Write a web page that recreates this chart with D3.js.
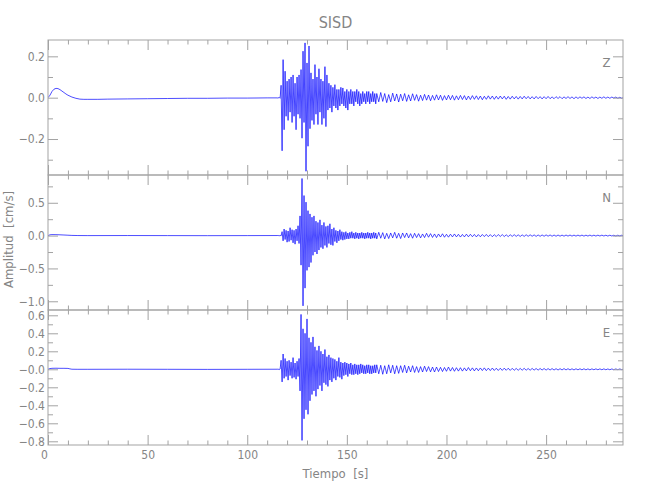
<!DOCTYPE html>
<html><head><meta charset="utf-8">
<script src="https://cdn.jsdelivr.net/npm/d3@7"></script>
<style>body{margin:0;background:#fff}svg{display:block}</style>
</head><body><svg id="c" width="650" height="500"></svg>
<script>
// ---------------- data ----------------
const title = "SISD";
const xLabel = "Tiempo  [s]";
const yLabel = "Amplitud  [cm/s]";
const xDomain = [0, 288.6];
const xTicksMajor = [0, 50, 100, 150, 200, 250];
const xTicksMinor = [10,20,30,40,60,70,80,90,110,120,130,140,160,170,180,190,210,220,230,240,260,270,280];
const channels = ["Z", "N", "E"];

const zDomain = [-0.374, 0.279];
const zTicksMajor = [0.2, 0.0, -0.2];
const zTickLabels = ["0.2", "0.0", "\u22120.2"];
const zTicksMinor = [0.1, -0.1, -0.3];

const nDomain = [-1.133, 0.923];
const nTicksMajor = [0.5, 0.0, -0.5, -1.0];
const nTickLabels = ["0.5", "0.0", "\u22120.5", "\u22121.0"];
const nTicksMinor = [0.75, 0.25, -0.25, -0.75];

const eDomain = [-0.841, 0.659];
const eTicksMajor = [0.6, 0.4, 0.2, 0.0, -0.2, -0.4, -0.6, -0.8];
const eTickLabels = ["0.6", "0.4", "0.2", "\u22120.0", "\u22120.2", "\u22120.4", "\u22120.6", "\u22120.8"];
const eTicksMinor = [0.5, 0.3, 0.1, -0.1, -0.3, -0.5, -0.7];

// pre-event samples (time s, amplitude cm/s)
const zPreT = [0,1,2,3,4,5,6,7,8,9,10,12,14,16,18,20,25,30,40,50,60,70,80,90,100,110,115];
const zPreV = [0,0.012,0.030,0.041,0.045,0.044,0.039,0.032,0.025,0.018,0.012,0.003,-0.003,-0.007,-0.008,-0.008,-0.008,-0.007,-0.006,-0.005,-0.004,-0.003,-0.003,-0.002,-0.002,-0.001,-0.001];
const nPreT = [0,1,2,4,6,8,10,12,15,20,40,60,80,100,115];
const nPreV = [0,0.012,0.015,0.014,0.012,0.009,0.006,0.003,0.001,0,0.001,0,-0.001,0,0.001];
const ePreT = [0,1,2,4,6,8,10,11,12,15,20,40,60,80,100,115];
const ePreV = [0,0.008,0.011,0.012,0.011,0.011,0.010,0.005,0.001,0,0,0.001,0,-0.001,0,0.001];

// successive peaks of the strong-motion part, every 0.5 s from 115.5 s
const burstStart = 115.5, burstStep = 0.5;
const zBurst = [
 -0.002,0.002,-0.003,0.06,-0.257,0.184,-0.155,0.128,-0.09,0.08,
 -0.11,0.09,-0.07,0.10,-0.12,0.11,-0.09,0.07,-0.155,0.10,
 -0.08,0.11,-0.10,0.136,-0.196,0.225,-0.12,0.265,-0.356,0.168,
 -0.235,0.25,-0.15,0.12,-0.11,0.09,-0.13,0.16,-0.08,0.10,
 -0.13,0.14,-0.07,0.09,-0.13,0.08,-0.10,0.15,-0.14,0.11,
 -0.06,0.07,-0.05,0.06,-0.07,0.05,-0.04,0.063,-0.05,0.04,
 -0.06,0.04,-0.04,0.05,-0.03,0.047,-0.04,0.03,-0.05,0.04,
 -0.06,0.03,-0.03,0.04,-0.03,0.03,-0.04,0.03,-0.02,0.04,
 -0.03,0.03,-0.04,0.02,-0.03,0.03,-0.02,0.02,-0.03,0.03,
 -0.02,0.03,-0.03,0.02,-0.02,0.03,-0.02,0.02,-0.03,0.02];
const nBurst = [
 0.003,-0.004,0.004,-0.005,0.06,-0.08,0.10,-0.06,0.08,-0.10,
 0.07,-0.09,0.12,-0.07,0.09,-0.11,0.08,-0.13,0.10,-0.08,
 0.15,-0.12,0.30,-0.45,0.87,-1.07,0.61,-0.80,0.51,-0.53,
 0.38,-0.48,0.33,-0.41,0.28,-0.30,0.30,-0.25,0.22,-0.28,
 0.20,-0.22,0.24,-0.18,0.16,-0.20,0.20,-0.15,0.14,-0.18,
 0.15,-0.12,0.18,-0.14,0.10,-0.15,0.12,-0.09,0.08,-0.11,
 0.07,-0.08,0.09,-0.06,0.06,-0.07,0.05,-0.06,0.06,-0.05,
 0.04,-0.05,0.05,-0.04,0.06,-0.04,0.04,-0.05,0.05,-0.04,
 0.04,-0.05,0.04,-0.04,0.05,-0.04,0.04,-0.05,0.04,-0.04,
 0.05,-0.04,0.04,-0.05,0.04,-0.04,0.05,-0.04,0.04,-0.05];
const eBurst = [
 0.002,-0.003,0.003,0.10,-0.14,0.17,-0.10,0.12,-0.08,0.09,
 -0.12,0.10,-0.07,0.08,-0.10,0.13,-0.09,0.07,-0.11,0.09,
 -0.08,0.12,-0.24,0.61,-0.79,0.45,-0.55,0.40,-0.45,0.56,
 -0.50,0.35,-0.35,0.30,-0.28,0.36,-0.24,0.25,-0.30,0.21,
 -0.22,0.26,-0.18,0.20,-0.24,0.17,-0.15,0.22,-0.17,0.14,
 -0.19,0.16,-0.12,0.13,-0.14,0.12,-0.10,0.11,-0.12,0.09,
 -0.08,0.13,-0.09,0.08,-0.11,0.07,-0.07,0.08,-0.06,0.07,
 -0.08,0.06,-0.05,0.07,-0.06,0.05,-0.06,0.06,-0.05,0.05,
 -0.06,0.05,-0.05,0.06,-0.04,0.05,-0.05,0.04,-0.05,0.05,
 -0.04,0.05,-0.05,0.04,-0.05,0.04,-0.04,0.05,-0.04,0.05];

// coda peaks, every 1 s from 166 s
const codaStart = 166, codaStep = 1;
const zCoda = [
 -0.02,0.025,-0.018,0.02,-0.024,0.015,-0.02,0.022,-0.016,0.018,
 -0.021,0.017,-0.015,0.02,-0.018,0.014,-0.016,0.019,-0.013,0.015,
 -0.017,0.012,-0.014,0.016,-0.012,0.013,-0.015,0.011,-0.012,0.014,
 -0.011,0.012,-0.013,0.01,-0.011,0.012,-0.01,0.011,-0.012,0.009,
 -0.01,0.011,-0.009,0.01,-0.011,0.008,-0.009,0.01,-0.008,0.009,
 -0.009,0.008,-0.01,0.007,-0.008,0.009,-0.007,0.008,-0.008,0.007,
 -0.007,0.008,-0.006,0.007,-0.008,0.006,-0.007,0.007,-0.006,0.006,
 -0.007,0.006,-0.006,0.007,-0.005,0.006,-0.006,0.005,-0.006,0.006,
 -0.005,0.005,-0.006,0.005,-0.005,0.006,-0.005,0.004,-0.005,0.005,
 -0.004,0.005,-0.005,0.004,-0.004,0.005,-0.004,0.004,-0.005,0.004,
 -0.004,0.004,-0.003,0.004,-0.004,0.003,-0.004,0.004,-0.003,0.003,
 -0.004,0.003,-0.003,0.004,-0.003,0.003,-0.003,0.003,-0.002,0.003,
 -0.003,0.002,-0.003,0.002];
const nCoda = [
 0.05,-0.04,0.045,-0.05,0.035,-0.045,0.04,-0.035,0.05,-0.04,
 0.035,-0.045,0.04,-0.03,0.04,-0.035,0.03,-0.04,0.035,-0.03,
 0.03,-0.035,0.025,-0.03,0.035,-0.025,0.03,-0.028,0.025,-0.03,
 0.025,-0.022,0.028,-0.025,0.02,-0.024,0.022,-0.02,0.025,-0.02,
 0.02,-0.022,0.018,-0.02,0.022,-0.018,0.02,-0.017,0.018,-0.02,
 0.016,-0.018,0.017,-0.015,0.018,-0.016,0.015,-0.017,0.014,-0.015,
 0.016,-0.013,0.015,-0.014,0.012,-0.015,0.013,-0.012,0.014,-0.012,
 0.012,-0.013,0.011,-0.012,0.013,-0.011,0.012,-0.01,0.011,-0.012,
 0.01,-0.011,0.01,-0.01,0.011,-0.009,0.01,-0.01,0.009,-0.01,
 0.009,-0.009,0.008,-0.009,0.009,-0.008,0.009,-0.008,0.008,-0.008,
 0.008,-0.007,0.008,-0.008,0.007,-0.007,0.008,-0.007,0.007,-0.007,
 0.007,-0.006,0.007,-0.006,0.006,-0.007,0.006,-0.006,0.006,-0.006,
 0.006,-0.005,0.006,-0.005];
const eCoda = [
 -0.05,0.045,-0.055,0.04,-0.05,0.05,-0.04,0.045,-0.05,0.04,
 -0.045,0.04,-0.035,0.045,-0.04,0.035,-0.03,0.04,-0.035,0.03,
 -0.035,0.03,-0.03,0.035,-0.025,0.03,-0.028,0.025,-0.03,0.025,
 -0.025,0.022,-0.025,0.02,-0.022,0.025,-0.02,0.02,-0.022,0.018,
 -0.02,0.018,-0.02,0.016,-0.018,0.02,-0.016,0.016,-0.018,0.015,
 -0.016,0.015,-0.014,0.016,-0.015,0.013,-0.014,0.014,-0.013,0.012,
 -0.013,0.012,-0.012,0.013,-0.011,0.012,-0.012,0.011,-0.011,0.01,
 -0.011,0.01,-0.01,0.011,-0.01,0.009,-0.01,0.01,-0.009,0.009,
 -0.009,0.009,-0.008,0.009,-0.009,0.008,-0.008,0.008,-0.008,0.007,
 -0.008,0.007,-0.007,0.008,-0.007,0.007,-0.007,0.006,-0.007,0.006,
 -0.006,0.006,-0.006,0.006,-0.006,0.005,-0.006,0.005,-0.005,0.005,
 -0.005,0.005,-0.005,0.005,-0.005,0.004,-0.005,0.004,-0.004,0.004,
 -0.004,0.004,-0.004,0.004];

// ---------------- drawing ----------------
const W = 650, H = 500;
const left = 48, right = 623;
const panelTops = [40, 175, 310];
const panelBottoms = [175, 310, 445];
const axisColor = "#a3a3a3", textColor = "#858585", traceColor = "#0000ff";
const FONT = "'Liberation Sans Narrow','DejaVu Sans Condensed','Liberation Sans',sans-serif";

function traceOf(preT, preV, burst, coda) {
  const pts = preT.map((t, i) => ({t, v: preV[i]}));
  burst.forEach((v, i) => pts.push({t: burstStart + i * burstStep, v}));
  coda.forEach((v, i) => pts.push({t: codaStart + i * codaStep, v}));
  return pts;
}
const panels = [
  {name: channels[0], dom: zDomain, maj: zTicksMajor, lab: zTickLabels, min: zTicksMinor, data: traceOf(zPreT, zPreV, zBurst, zCoda)},
  {name: channels[1], dom: nDomain, maj: nTicksMajor, lab: nTickLabels, min: nTicksMinor, data: traceOf(nPreT, nPreV, nBurst, nCoda)},
  {name: channels[2], dom: eDomain, maj: eTicksMajor, lab: eTickLabels, min: eTicksMinor, data: traceOf(ePreT, ePreV, eBurst, eCoda)}
];

const svg = d3.select("#c");
svg.append("rect").attr("width", W).attr("height", H).attr("fill", "#fff");
const x = d3.scaleLinear().domain(xDomain).range([left, right]);

function styleAxis(g) {
  g.select(".domain").remove();
  g.selectAll(".tick line").attr("stroke", axisColor).attr("stroke-width", 1);
  g.selectAll(".tick text").attr("fill", textColor).attr("font-family", FONT).attr("font-size", 12);
}

panels.forEach((p, k) => {
  const top = panelTops[k], bot = panelBottoms[k];
  const y = d3.scaleLinear().domain(p.dom).range([bot, top]);
  const g = svg.append("g");
  const cid = "clip" + k;
  svg.append("clipPath").attr("id", cid).append("rect")
    .attr("x", left).attr("y", top).attr("width", right - left).attr("height", bot - top);

  // trace
  const line = d3.line().x(d => x(d.t)).y(d => y(d.v));
  g.append("path").datum(p.data).attr("d", line).attr("clip-path", `url(#${cid})`)
    .attr("fill", "none").attr("stroke", traceColor).attr("stroke-width", 0.7)
    .attr("stroke-linejoin", "miter").attr("stroke-miterlimit", 2);

  // x axes (bottom with labels only for last panel)
  const isLast = k === panels.length - 1;
  const gb = g.append("g").attr("transform", `translate(0,${bot})`)
    .call(d3.axisBottom(x).tickValues(xTicksMajor).tickSize(-10).tickPadding(isLast ? 5 : 0)
      .tickFormat(isLast ? d3.format("d") : () => ""))
    .call(styleAxis);
  gb.selectAll(".tick text").filter(d => d === 0).attr("dx", -4);
  g.append("g").attr("transform", `translate(0,${bot})`)
    .call(d3.axisBottom(x).tickValues(xTicksMinor).tickSize(-4.5).tickFormat(() => "")).call(styleAxis);
  g.append("g").attr("transform", `translate(0,${top})`)
    .call(d3.axisTop(x).tickValues(xTicksMajor).tickSize(-10).tickFormat(() => "")).call(styleAxis);
  g.append("g").attr("transform", `translate(0,${top})`)
    .call(d3.axisTop(x).tickValues(xTicksMinor).tickSize(-4.5).tickFormat(() => "")).call(styleAxis);

  // y axes
  g.append("g").attr("transform", `translate(${left},0)`)
    .call(d3.axisLeft(y).tickValues(p.maj).tickSize(-10).tickPadding(3).tickFormat((d, i) => p.lab[i]))
    .call(styleAxis);
  g.append("g").attr("transform", `translate(${left},0)`)
    .call(d3.axisLeft(y).tickValues(p.min).tickSize(-5).tickFormat(() => "")).call(styleAxis);
  g.append("g").attr("transform", `translate(${right},0)`)
    .call(d3.axisRight(y).tickValues(p.maj).tickSize(-10).tickFormat(() => "")).call(styleAxis);
  g.append("g").attr("transform", `translate(${right},0)`)
    .call(d3.axisRight(y).tickValues(p.min).tickSize(-5).tickFormat(() => "")).call(styleAxis);

  // frame
  g.append("rect").attr("x", left).attr("y", top).attr("width", right - left).attr("height", bot - top)
    .attr("fill", "none").attr("stroke", axisColor).attr("stroke-width", 1);

  // channel label
  g.append("text").attr("x", 606.5).attr("y", top + 26.5).attr("text-anchor", "middle")
    .attr("font-family", FONT).attr("font-size", 13).attr("fill", textColor).text(p.name);
});

// titles
svg.append("text").attr("x", (left + right) / 2).attr("y", 28).attr("text-anchor", "middle")
  .attr("font-family", FONT).attr("font-size", 16).attr("fill", textColor).text(title);
svg.append("text").attr("x", (left + right) / 2).attr("y", 478).attr("text-anchor", "middle")
  .style("white-space", "pre").attr("font-family", FONT).attr("font-size", 13)
  .attr("fill", textColor).text(xLabel);
svg.append("text").attr("transform", `translate(13,${(panelTops[1] + panelBottoms[1]) / 2 - 3}) rotate(-90)`)
  .style("white-space", "pre").attr("text-anchor", "middle").attr("font-family", FONT).attr("font-size", 13)
  .attr("fill", textColor).text(yLabel);
</script>
</body></html>
